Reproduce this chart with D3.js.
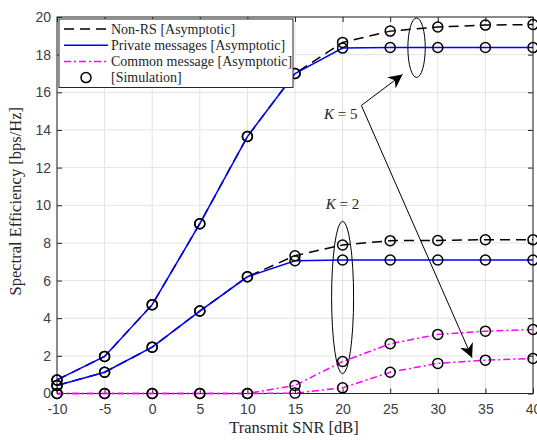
<!DOCTYPE html>
<html>
<head>
<meta charset="utf-8">
<script src="https://cdn.jsdelivr.net/npm/d3@7"></script>
<style>
  body { margin: 0; background: #fff; }
  svg { display: block; }
  .tick text { font-family: "Liberation Sans", Arial, sans-serif; font-size: 14px; fill: #404040; }
  .serif { font-family: "Liberation Serif", "DejaVu Serif", serif; fill: #262626; }
</style>
</head>
<body>
<div id="okvir"></div>
<script>
// podaci (ocitano sa slike)
const snr = [-10, -5, 0, 5, 10, 15, 20, 25, 30, 35, 40];
const k5NonRS   = [0.72, 1.97, 4.72, 9.02, 13.65, 17.0, 18.65, 19.25, 19.47, 19.57, 19.6];
const k5Private = [0.72, 1.97, 4.72, 9.02, 13.65, 17.0, 18.35, 18.38, 18.38, 18.38, 18.38];
const k5Common  = [0, 0, 0, 0, 0, 0.43, 1.7, 2.64, 3.14, 3.31, 3.4];
const k2NonRS   = [0.43, 1.13, 2.46, 4.38, 6.2, 7.32, 7.89, 8.12, 8.13, 8.17, 8.17];
const k2Private = [0.43, 1.13, 2.46, 4.38, 6.2, 7.05, 7.09, 7.09, 7.09, 7.09, 7.09];
const k2Common  = [0, 0, 0, 0, 0, 0.02, 0.3, 1.13, 1.6, 1.77, 1.86];
const xTicks = [-10, -5, 0, 5, 10, 15, 20, 25, 30, 35, 40];
const yTicks = [0, 2, 4, 6, 8, 10, 12, 14, 16, 18, 20];
const legendLabels = ["Non-RS [Asymptotic]", "Private messages [Asymptotic]", "Common message [Asymptotic]", "[Simulation]"];

const sirina = 537, visina = 440;
const m = { top: 17, right: 4, bottom: 46.5, left: 57 };
const grSirina = sirina - m.left - m.right;
const grVisina = visina - m.top - m.bottom;

const svg = d3.select("#okvir").append("svg")
  .attr("width", sirina).attr("height", visina);
const g = svg.append("g").attr("transform", `translate(${m.left},${m.top})`);

const x = d3.scaleLinear().domain([-10, 40]).range([0, grSirina]);
const y = d3.scaleLinear().domain([0, 20]).range([grVisina, 0]);

// mreza
g.append("g").selectAll("line").data(xTicks).join("line")
  .attr("x1", d => x(d)).attr("x2", d => x(d)).attr("y1", 0).attr("y2", grVisina)
  .attr("stroke", "#e3e3e3").attr("stroke-width", 1);
g.append("g").selectAll("line").data(yTicks).join("line")
  .attr("y1", d => y(d)).attr("y2", d => y(d)).attr("x1", 0).attr("x2", grSirina)
  .attr("stroke", "#e3e3e3").attr("stroke-width", 1);

// osi
const osStil = sel => {
  sel.select(".domain").remove();
  sel.selectAll(".tick line").attr("stroke", "#262626");
};
const oznaka = d => String(d);
g.append("g").attr("transform", `translate(0,${grVisina})`)
  .call(d3.axisBottom(x).tickValues(xTicks).tickFormat(oznaka).tickSizeInner(-5).tickSizeOuter(0).tickPadding(11))
  .call(osStil);
g.append("g")
  .call(d3.axisLeft(y).tickValues(yTicks).tickFormat(oznaka).tickSizeInner(-5).tickSizeOuter(0).tickPadding(6))
  .call(osStil);
g.append("g")
  .call(d3.axisTop(x).tickValues(xTicks).tickSizeInner(-5).tickSizeOuter(0).tickFormat(""))
  .call(osStil);
g.append("g").attr("transform", `translate(${grSirina},0)`)
  .call(d3.axisRight(y).tickValues(yTicks).tickSizeInner(-5).tickSizeOuter(0).tickFormat(""))
  .call(osStil);
g.append("rect").attr("width", grSirina).attr("height", grVisina)
  .attr("fill", "none").attr("stroke", "#262626").attr("stroke-width", 1);

// linije
const serije = [
  { v: k5NonRS, boja: "#000", crta: "10,6" },
  { v: k5Private, boja: "#0000ff", crta: null },
  { v: k5Common, boja: "#ff00ff", crta: "7,3,2,3" },
  { v: k2NonRS, boja: "#000", crta: "10,6" },
  { v: k2Private, boja: "#0000ff", crta: null },
  { v: k2Common, boja: "#ff00ff", crta: "7,3,2,3" }
];
const linija = d3.line().x((d, i) => x(snr[i])).y(d => y(d));
g.append("g").selectAll("path").data(serije).join("path")
  .attr("d", s => linija(s.v))
  .attr("fill", "none").attr("stroke", s => s.boja).attr("stroke-width", 1.5)
  .attr("stroke-dasharray", s => s.crta);

// simulacija - krugovi
const tocke = serije.flatMap(s => s.v.map((d, i) => ({ x: snr[i], y: d })));
g.append("g").selectAll("circle").data(tocke).join("circle")
  .attr("cx", d => x(d.x)).attr("cy", d => y(d.y)).attr("r", 5)
  .attr("fill", "none").attr("stroke", "#000").attr("stroke-width", 1.5);

// anotacije
svg.append("defs").append("marker").attr("id", "strelica")
  .attr("viewBox", "0 0 10 10").attr("refX", 10).attr("refY", 5)
  .attr("markerWidth", 14).attr("markerHeight", 14).attr("markerUnits", "userSpaceOnUse")
  .attr("orient", "auto")
  .append("path").attr("d", "M0,0 L10,5 L0,10 L3,5 Z").attr("fill", "#000");

const ann = g.append("g");
ann.append("ellipse").attr("cx", x(20)).attr("cy", y(5.1))
  .attr("rx", 11).attr("ry", y(0) - y(4.05))
  .attr("fill", "none").attr("stroke", "#000").attr("stroke-width", 1);
ann.append("ellipse").attr("cx", x(27.77)).attr("cy", y(18.37))
  .attr("rx", 8.7).attr("ry", y(0) - y(1.58))
  .attr("fill", "none").attr("stroke", "#000").attr("stroke-width", 1);
const kTekst = (tx, ty, k) => {
  const t = ann.append("text").attr("class", "serif").attr("x", tx).attr("y", ty)
    .attr("text-anchor", "middle").attr("font-size", 15);
  t.append("tspan").attr("font-style", "italic").text("K");
  t.append("tspan").text(" = " + k);
};
kTekst(x(20), y(9.8), 2);
kTekst(x(19.8), y(14.6), 5);
const ax = x(21.97), ay = y(15.3);
ann.append("line").attr("x1", ax).attr("y1", ay).attr("x2", x(26.3)).attr("y2", y(16.95))
  .attr("stroke", "#000").attr("stroke-width", 1).attr("marker-end", "url(#strelica)");
ann.append("line").attr("x1", ax).attr("y1", ay).attr("x2", x(33.6)).attr("y2", y(1.9))
  .attr("stroke", "#000").attr("stroke-width", 1).attr("marker-end", "url(#strelica)");

// legenda
const leg = g.append("g").attr("transform", "translate(2,2)");
leg.append("rect").attr("width", 234).attr("height", 68.5)
  .attr("fill", "#fff").attr("stroke", "#262626").attr("stroke-width", 1);
const legSerije = serije.slice(0, 3);
legendLabels.forEach((lab, i) => {
  const ry = 10 + i * 16.2;
  if (i < 3) {
    leg.append("line").attr("x1", 5).attr("x2", 49).attr("y1", ry).attr("y2", ry)
      .attr("stroke", legSerije[i].boja).attr("stroke-width", 1.5)
      .attr("stroke-dasharray", legSerije[i].crta);
  } else {
    leg.append("circle").attr("cx", 27).attr("cy", ry).attr("r", 5)
      .attr("fill", "none").attr("stroke", "#000").attr("stroke-width", 1.5);
  }
  leg.append("text").attr("class", "serif").attr("x", 52).attr("y", ry + 4.5)
    .attr("font-size", 14).text(lab);
});

// naslovi osi
svg.append("text").attr("class", "serif").attr("x", m.left + grSirina / 2 - 1).attr("y", 433)
  .attr("text-anchor", "middle").attr("font-size", 16.5).text("Transmit SNR [dB]");
svg.append("text").attr("class", "serif")
  .attr("transform", `translate(21,${m.top + grVisina / 2 - 4}) rotate(-90)`)
  .attr("text-anchor", "middle").attr("font-size", 16.5).text("Spectral Efficiency [bps/Hz]");
</script>
</body>
</html>
